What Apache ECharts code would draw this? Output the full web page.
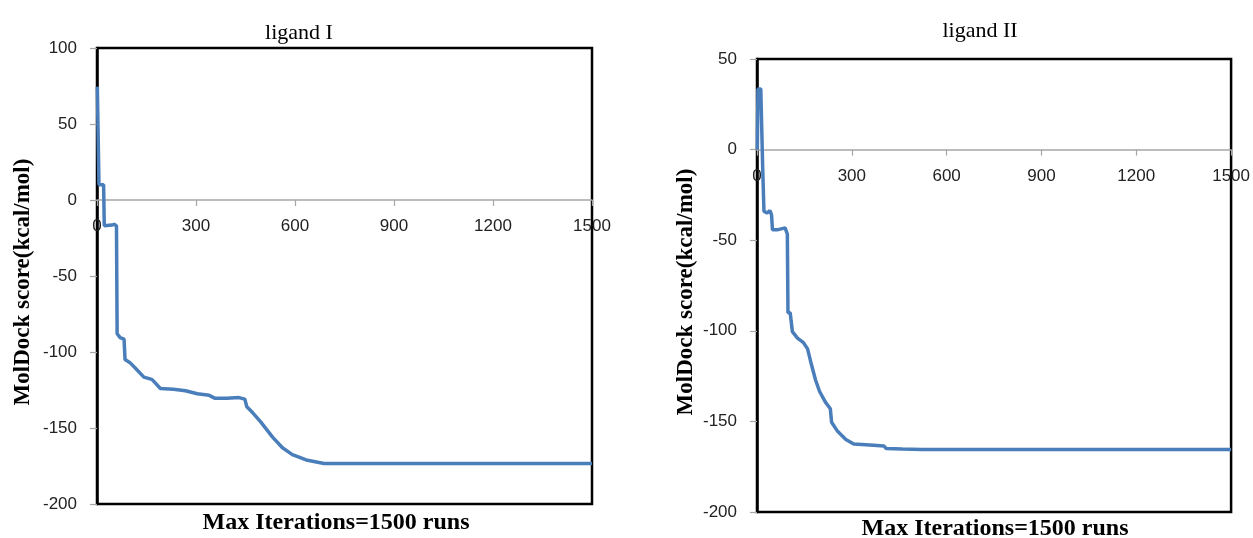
<!DOCTYPE html>
<html>
<head>
<meta charset="utf-8">
<script src="https://cdn.jsdelivr.net/npm/echarts@6/dist/echarts.min.js"></script>
<style>
  html, body { margin: 0; padding: 0; background: #fff; }
  #chart { width: 1253px; height: 538px; }
</style>
</head>
<body>
<div id="chart"></div>
<script>
// ligand I : iteration vs MolDock score
var iterI  = [1, 5, 6, 20, 22, 28, 45, 52, 59, 61, 70, 82, 85, 100, 118, 142, 166, 175, 192, 232, 268, 304, 340, 358, 394, 430, 448, 454, 472, 496, 532, 562, 592, 634, 688, 1500];
var scoreI = [74.5, 74.5, 10, 10, -17, -17, -16.5, -16, -17, -88, -90.5, -91.5, -105, -107, -111, -116.5, -118, -120, -124, -124.5, -125.5, -127.5, -128.5, -130.5, -130.5, -130, -131, -136, -140, -146, -156, -163, -167.5, -171, -173.3, -173.3];

// ligand II
var iterII  = [1, 3, 12, 18, 22, 32, 41, 46, 49, 64, 89, 96, 98, 105, 112, 128, 147, 160, 172, 185, 198, 217, 232, 236, 255, 281, 306, 357, 402, 409, 460, 523, 1500];
var scoreII = [0, 33.5, 33.5, -10, -34, -35, -33.7, -36, -44.3, -44.3, -43.2, -46.6, -90, -90, -100.5, -104, -106.5, -110, -118.5, -127, -133.5, -139.5, -143, -150.5, -155.5, -160, -162.5, -163, -163.6, -165, -165.3, -165.5, -165.5];

var xTicks = [0, 300, 600, 900, 1200, 1500];

var chart = echarts.init(document.getElementById('chart'));

function pairs(xs, ys) {
    return xs.map(function (x, i) { return [x, ys[i]]; });
}

// the x axis sits on y = 0, labels just under it
function xAxisOf(idx, offset) {
    return {
        gridIndex: idx,
        type: 'value',
        position: 'bottom',
        offset: offset,
        min: xTicks[0],
        max: xTicks[xTicks.length - 1],
        interval: 300,
        axisLine: { onZero: false, lineStyle: { color: '#a6a6a6', width: 1.5 } },
        axisTick: { show: true, length: 6, lineStyle: { color: '#a6a6a6', width: 1.2 } },
        axisLabel: {
            color: '#222', fontSize: 17, fontFamily: 'Liberation Sans', margin: 18,
            formatter: function (v) { return String(v); }
        },
        splitLine: { show: false }
    };
}

function yAxisOf(idx, max) {
    return {
        gridIndex: idx,
        type: 'value',
        min: -200,
        max: max,
        interval: 50,
        axisLine: { show: true, onZero: false, lineStyle: { color: '#000', width: 2.5 } },
        axisTick: { show: true, length: 7, lineStyle: { color: '#a6a6a6', width: 1.2 } },
        axisLabel: { color: '#222', fontSize: 17, fontFamily: 'Liberation Sans', margin: 20 },
        splitLine: { show: false }
    };
}

var serif = '"Liberation Serif", "Times New Roman", serif';

// grid heights: left 456 (range 300), right 453 (range 250)
chart.setOption({
    backgroundColor: '#fff',
    animation: false,
    grid: [
        { left: 97, right: 661, top: 48, bottom: 34, show: true, borderColor: '#000', borderWidth: 2.5 },
        { left: 757, right: 21, top: 59, bottom: 26, show: true, borderColor: '#000', borderWidth: 2.5 }
    ],
    xAxis: [xAxisOf(0, -456 * 200 / 300), xAxisOf(1, -453 * 200 / 250)],
    yAxis: [yAxisOf(0, 100), yAxisOf(1, 50)],
    series: [
        {
            type: 'line', xAxisIndex: 0, yAxisIndex: 0,
            data: pairs(iterI, scoreI),
            showSymbol: false,
            lineStyle: { color: '#4a7ebb', width: 3.5 }
        },
        {
            type: 'line', xAxisIndex: 1, yAxisIndex: 1,
            data: pairs(iterII, scoreII),
            showSymbol: false,
            lineStyle: { color: '#4a7ebb', width: 3.5 }
        }
    ],
    graphic: [
        { type: 'text', x: 299, y: 33, style: { text: 'ligand I', font: '22px ' + serif, fill: '#000', align: 'center', verticalAlign: 'middle' } },
        { type: 'text', x: 980, y: 31, style: { text: 'ligand II', font: '22px ' + serif, fill: '#000', align: 'center', verticalAlign: 'middle' } },
        { type: 'text', x: 23, y: 282, rotation: Math.PI / 2, style: { text: 'MolDock score(kcal/mol)', font: 'bold 23px ' + serif, fill: '#000', align: 'center', verticalAlign: 'middle' } },
        { type: 'text', x: 686, y: 292, rotation: Math.PI / 2, style: { text: 'MolDock score(kcal/mol)', font: 'bold 23px ' + serif, fill: '#000', align: 'center', verticalAlign: 'middle' } },
        { type: 'text', x: 336, y: 523, style: { text: 'Max Iterations=1500 runs', font: 'bold 24px ' + serif, fill: '#000', align: 'center', verticalAlign: 'middle' } },
        { type: 'text', x: 995, y: 529, style: { text: 'Max Iterations=1500 runs', font: 'bold 24px ' + serif, fill: '#000', align: 'center', verticalAlign: 'middle' } }
    ]
});
</script>
</body>
</html>
